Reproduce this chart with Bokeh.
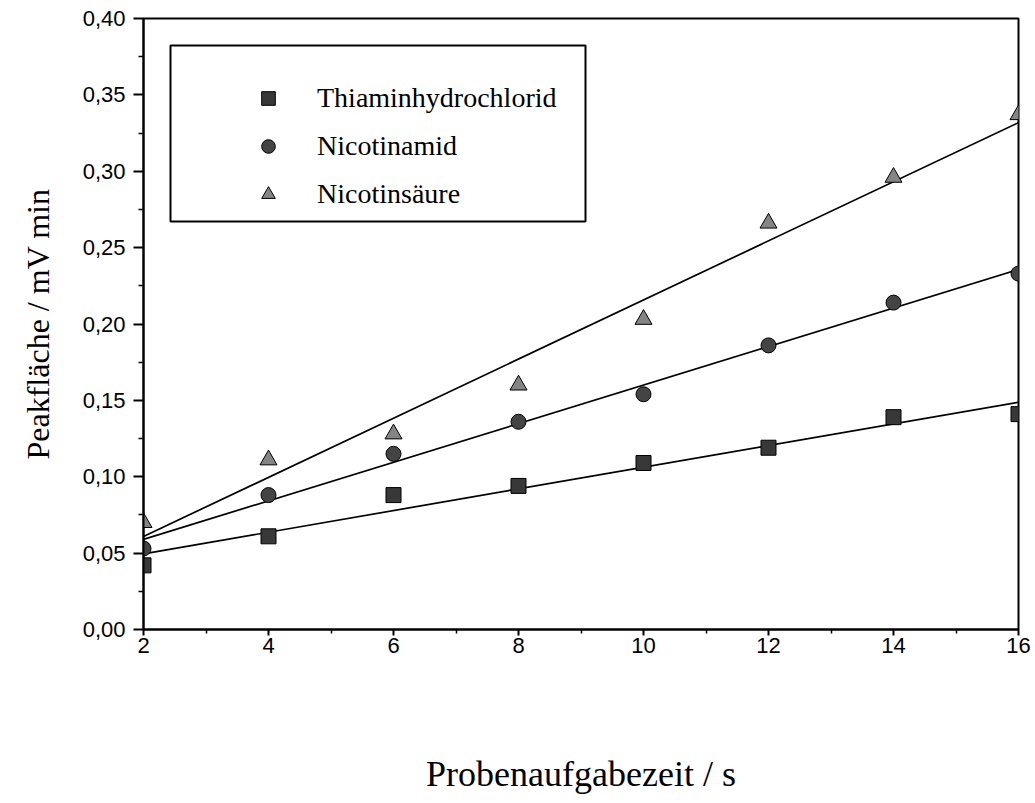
import numpy as np
from bokeh.plotting import figure
from bokeh.models import (FixedTicker, CustomJSTickFormatter, Legend, LegendItem,
                          Range1d, BoxAnnotation)
from bokeh.embed import file_html
from bokeh.resources import INLINE

# ---- data ----
time_s = [2, 4, 6, 8, 10, 12, 14, 16]
thiamin = [0.042, 0.061, 0.088, 0.094, 0.109, 0.119, 0.139, 0.141]
nicotinamid = [0.053, 0.088, 0.115, 0.136, 0.154, 0.186, 0.214, 0.233]
nicotinsaeure = [0.070, 0.111, 0.128, 0.160, 0.203, 0.266, 0.296, 0.337]

series_names = ["Thiaminhydrochlorid", "Nicotinamid", "Nicotinsäure"]

x_ticks = [2, 4, 6, 8, 10, 12, 14, 16]
x_tick_labels = ["2", "4", "6", "8", "10", "12", "14", "16"]
x_minor_ticks = [3, 5, 7, 9, 11, 13, 15]
y_ticks = [0.0, 0.05, 0.10, 0.15, 0.20, 0.25, 0.30, 0.35, 0.40]
y_tick_labels = ["0,00", "0,05", "0,10", "0,15", "0,20", "0,25", "0,30", "0,35", "0,40"]
y_minor_ticks = [0.025, 0.075, 0.125, 0.175, 0.225, 0.275, 0.325, 0.375]

SERIF = "Liberation Serif"
SANS = "Liberation Sans"

p = figure(width=1035, height=803,
           x_range=Range1d(2, 16), y_range=Range1d(0, 0.40),
           output_backend="svg", toolbar_location=None,
           min_border_left=143, min_border_right=17,
           min_border_top=18, min_border_bottom=174,
           background_fill_color="white", border_fill_color="white")

p.xgrid.visible = False
p.ygrid.visible = False
p.outline_line_color = "black"
p.outline_line_width = 2

def fmt(tvals, tlabels):
    return CustomJSTickFormatter(args=dict(tvals=tvals, tlabels=tlabels), code="""
        let best = 0;
        for (let i = 0; i < tvals.length; i++) {
            if (Math.abs(tvals[i] - tick) < Math.abs(tvals[best] - tick)) best = i;
        }
        return tlabels[best];
    """)

xa = p.xaxis[0]
xa.ticker = FixedTicker(ticks=x_ticks, minor_ticks=x_minor_ticks)
xa.formatter = fmt(x_ticks, x_tick_labels)
xa.axis_label = "Probenaufgabezeit / s"
ya = p.yaxis[0]
ya.ticker = FixedTicker(ticks=y_ticks, minor_ticks=y_minor_ticks)
ya.formatter = fmt(y_ticks, y_tick_labels)
ya.axis_label = "Peakfläche / mV min"

for ax in (xa, ya):
    ax.axis_line_width = 2
    ax.axis_line_color = "black"
    ax.major_tick_line_width = 2
    ax.major_tick_line_color = "black"
    ax.minor_tick_line_width = 1.5
    ax.minor_tick_line_color = "black"
    ax.major_tick_in = 0
    ax.minor_tick_in = 0
    ax.major_label_text_font = SANS
    ax.major_label_text_font_size = "22px"
    ax.major_label_text_color = "black"
    ax.axis_label_text_font = SERIF
    ax.axis_label_text_font_style = "normal"
    ax.axis_label_text_color = "black"

xa.axis_label_text_font_size = "36px"
ya.axis_label_text_font_size = "32px"
xa.major_tick_out = 6
xa.minor_tick_out = 4
xa.major_label_standoff = 2
xa.axis_label_standoff = 98
ya.major_tick_out = 10
ya.minor_tick_out = 5
ya.major_label_standoff = 8
ya.axis_label_standoff = 24

# regression lines computed from the data
for ys in (thiamin, nicotinamid, nicotinsaeure):
    k, d = np.polyfit(time_s, ys, 1)
    xs = [time_s[0], time_s[-1]]
    p.line(xs, [k * xs[0] + d, k * xs[1] + d], line_color="black", line_width=1.7)

r1 = p.scatter(time_s, thiamin, marker="square", size=15,
               fill_color="#383838", line_color="black", line_width=1)
r2 = p.scatter(time_s, nicotinamid, marker="circle", size=15,
               fill_color="#444444", line_color="black", line_width=1)
r3 = p.scatter(time_s, nicotinsaeure, marker="triangle", size=17,
               fill_color="#858585", line_color="black", line_width=1)

# legend frame
p.add_layout(BoxAnnotation(left=170, right=585, top=45, bottom=221,
                           left_units="canvas", right_units="canvas",
                           top_units="canvas", bottom_units="canvas",
                           fill_color="white", fill_alpha=1,
                           line_color="black", line_alpha=1, line_width=2))

legend = Legend(
    items=[LegendItem(label=series_names[0], renderers=[r1]),
           LegendItem(label=series_names[1], renderers=[r2]),
           LegendItem(label=series_names[2], renderers=[r3])],
    location=(108, 418),
    padding=0, spacing=14, margin=0,
    glyph_width=34, glyph_height=34, label_height=34,
    label_standoff=32,
    label_text_font=SERIF, label_text_font_size="28px", label_text_color="black",
    border_line_alpha=0, background_fill_alpha=0,
)
p.add_layout(legend, "center")

open("out.html", "w").write(file_html(p, INLINE))
